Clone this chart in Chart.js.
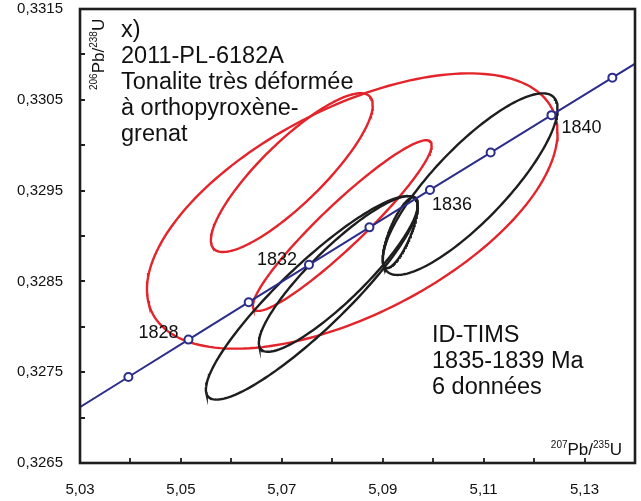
<!DOCTYPE html>
<html lang="fr">
<head>
    <meta charset="UTF-8">
    <script src="https://cdn.jsdelivr.net/npm/chart.js"></script>
    <title>2011-PL-6182A</title>
    <style>
        body {
            margin: 0;
            background: #fff;
        }
        canvas {
            display: block;
        }
    </style>
</head>
<body>
    <canvas id="concordia" width="641" height="501"></canvas>
    <script>
        // Concordia ticks (Ma) and their 207Pb/235U - 206Pb/238U coordinates
        const concordiaAges = [1826, 1828, 1830, 1832, 1834, 1836, 1838, 1840, 1842];
        const concordiaX = [5.039589, 5.051498, 5.063432, 5.075383, 5.087363, 5.099366, 5.111389, 5.123440, 5.135514];
        const concordiaY = [0.327447, 0.327859, 0.328271, 0.328683, 0.329095, 0.329507, 0.329919, 0.330331, 0.330744];
        // the curve itself runs a bit past the axes (1824 and 1844 Ma)
        const curveX = [5.027700, 5.039589, 5.051498, 5.063432, 5.075383, 5.087363, 5.099366, 5.111389, 5.123440, 5.135514, 5.147607];
        const curveY = [0.327036, 0.327447, 0.327859, 0.328271, 0.328683, 0.329095, 0.329507, 0.329919, 0.330331, 0.330744, 0.331156];
        const labelledAges = [1828, 1832, 1836, 1840];

        // Error ellipses: centre, 2 sigma half-widths and correlation
        const redCx = [5.08396, 5.07198, 5.08198];
        const redCy = [0.329275, 0.329698, 0.329115];
        const redSx = [0.04069, 0.01604, 0.01772];
        const redSy = [0.001516, 0.000874, 0.000940];
        const redRho = [0.57, 0.85, 0.94];

        const blackCx = [5.07594, 5.08119, 5.09347, 5.10733];
        const blackCy = [0.328319, 0.328582, 0.329038, 0.329571];
        const blackSx = [0.02099, 0.01574, 0.003465, 0.01733];
        const blackSy = [0.001121, 0.000857, 0.000390, 0.001000];
        const blackRho = [0.90, 0.885, 0.75, 0.83];

        const xTicksMin = 5.03, xTicksMax = 5.14;
        const yTicksMin = 0.3265, yTicksMax = 0.3315;

        const titleLines = ['x)', '2011-PL-6182A', 'Tonalite très déformée', 'à orthopyroxène-', 'grenat'];
        const resultLines = ['ID-TIMS', '1835-1839 Ma', '6 données'];

        const FONT = '"Liberation Sans", Arial, sans-serif';
        const RED = '#e3242b';
        const BLACK = '#1e1e1e';
        const NAVY = '#2b2d8a';

        function ellipsePoints(cx, cy, sx, sy, rho) {
            const pts = [];
            const k = Math.sqrt(1 - rho * rho);
            const n = 180;
            for (let i = 0; i <= n; i++) {
                const t = i / n * 2 * Math.PI;
                pts.push({ x: cx + sx * Math.cos(t), y: cy + sy * (rho * Math.cos(t) + k * Math.sin(t)) });
            }
            return pts;
        }

        function ellipseDatasets(cx, cy, sx, sy, rho, color) {
            return cx.map((_, i) => ({
                data: ellipsePoints(cx[i], cy[i], sx[i], sy[i], rho[i]),
                showLine: true,
                borderColor: color,
                borderWidth: 2.4,
                pointRadius: 0,
                fill: false,
                clip: 0
            }));
        }

        // text with superscript parts, e.g. [['207', true], ['Pb/', false]]
        function richWidth(ctx, parts, size, supSize) {
            let w = 0;
            parts.forEach(([t, sup]) => {
                ctx.font = (sup ? supSize : size) + 'px ' + FONT;
                w += ctx.measureText(t).width;
            });
            return w;
        }

        function drawRich(ctx, parts, x, y, size, supSize) {
            let cx = x;
            parts.forEach(([t, sup]) => {
                ctx.font = (sup ? supSize : size) + 'px ' + FONT;
                ctx.fillText(t, cx, sup ? y - size * 0.4 : y);
                cx += ctx.measureText(t).width;
            });
        }

        const decor = {
            id: 'decor',
            afterDatasetsDraw(chart) {
                const { ctx, chartArea: a, scales } = chart;
                const xs = scales.x, ys = scales.y;
                ctx.save();

                // inner tick marks
                ctx.strokeStyle = BLACK;
                ctx.lineWidth = 1.8;
                ctx.beginPath();
                xs.ticks.forEach(t => {
                    const px = Math.round(xs.getPixelForValue(t.value));
                    ctx.moveTo(px, a.bottom);
                    ctx.lineTo(px, a.bottom - 5);
                });
                ys.ticks.forEach(t => {
                    const py = Math.round(ys.getPixelForValue(t.value));
                    ctx.moveTo(a.left, py);
                    ctx.lineTo(a.left + 5, py);
                });
                ctx.stroke();

                // frame
                ctx.lineWidth = 2.6;
                ctx.strokeRect(a.left, a.top, a.right - a.left, a.bottom - a.top);

                // concordia age labels
                ctx.fillStyle = '#111';
                ctx.font = '18px ' + FONT;
                const labelOffsets = { 1828: [-10, -2, 'right'], 1832: [-12, 0, 'right'], 1836: [2, 20, 'left'], 1840: [10, 18, 'left'] };
                labelledAges.forEach(age => {
                    const i = concordiaAges.indexOf(age);
                    const px = xs.getPixelForValue(concordiaX[i]);
                    const py = ys.getPixelForValue(concordiaY[i]);
                    const [dx, dy, align] = labelOffsets[age];
                    ctx.textAlign = align;
                    ctx.fillText(String(age), px + dx, py + dy);
                });

                // sample description
                ctx.textAlign = 'left';
                ctx.textBaseline = 'alphabetic';
                ctx.font = '23.5px ' + FONT;
                titleLines.forEach((line, i) => {
                    ctx.fillText(line, a.left + 41, a.top + 28 + i * 26);
                });
                resultLines.forEach((line, i) => {
                    ctx.fillText(line, a.left + 352, a.top + 333 + i * 26);
                });

                // axis titles
                const xTitle = [['207', true], ['Pb/', false], ['235', true], ['U', false]];
                const w = richWidth(ctx, xTitle, 17, 10);
                drawRich(ctx, xTitle, a.right - 13 - w, a.bottom - 8, 17, 10);

                const yTitle = [['206', true], ['Pb/', false], ['238', true], ['U', false]];
                ctx.translate(a.left + 24, a.top + 81);
                ctx.rotate(-Math.PI / 2);
                drawRich(ctx, yTitle, 0, 0, 17, 10);

                ctx.restore();
            }
        };

        const points = concordiaX.map((x, i) => ({ x: x, y: concordiaY[i] }));
        const curve = curveX.map((x, i) => ({ x: x, y: curveY[i] }));

        const config = {
            type: 'scatter',
            data: {
                datasets: [
                    {
                        data: points,
                        showLine: false,
                        pointRadius: 4,
                        pointBorderWidth: 2,
                        pointBackgroundColor: '#fff',
                        pointBorderColor: NAVY
                    },
                    {
                        data: curve,
                        showLine: true,
                        borderColor: NAVY,
                        borderWidth: 2,
                        pointRadius: 0,
                        clip: 0
                    },
                    ...ellipseDatasets(blackCx, blackCy, blackSx, blackSy, blackRho, BLACK),
                    ...ellipseDatasets(redCx, redCy, redSx, redSy, redRho, RED)
                ]
            },
            options: {
                responsive: false,
                animation: false,
                events: [],
                layout: { padding: { top: 9, right: 5, left: 0, bottom: 0 } },
                plugins: {
                    legend: { display: false },
                    tooltip: { enabled: false }
                },
                scales: {
                    x: {
                        type: 'linear',
                        min: xTicksMin,
                        max: xTicksMax,
                        grid: { display: false, drawTicks: false },
                        border: { display: false },
                        afterFit: s => {
                            s.height = 38;
                            s.paddingLeft = 0;
                            s.paddingRight = 0;
                        },
                        ticks: {
                            stepSize: 0.01,
                            padding: 18,
                            color: '#111',
                            font: { family: FONT, size: 15 },
                            maxRotation: 0,
                            autoSkip: false,
                            callback: (v, i) => i % 2 === 0 ? v.toFixed(2).replace('.', ',') : ''
                        }
                    },
                    y: {
                        type: 'linear',
                        min: yTicksMin,
                        max: yTicksMax,
                        grid: { display: false, drawTicks: false },
                        border: { display: false },
                        afterFit: s => {
                            s.width = 80;
                            s.paddingTop = 0;
                            s.paddingBottom = 0;
                        },
                        ticks: {
                            stepSize: 0.0005,
                            padding: 17,
                            color: '#111',
                            font: { family: FONT, size: 15 },
                            autoSkip: false,
                            callback: (v, i) => i % 2 === 0 ? v.toFixed(4).replace('.', ',') : ''
                        }
                    }
                }
            },
            plugins: [decor]
        };

        new Chart(document.getElementById('concordia'), config);
    </script>
</body>
</html>
